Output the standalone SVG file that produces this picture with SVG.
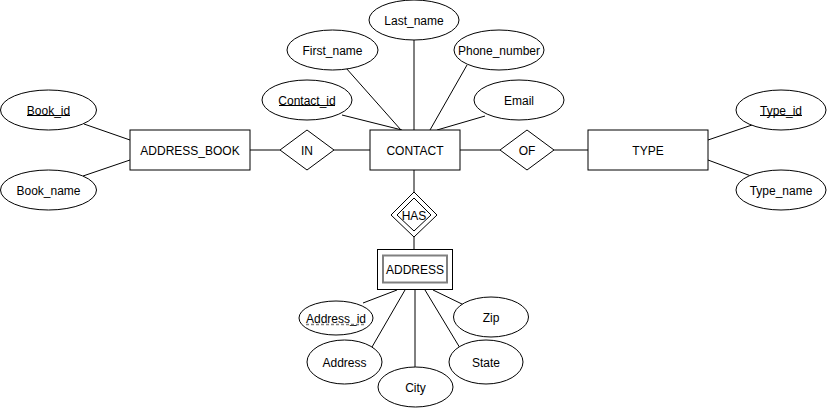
<svg xmlns="http://www.w3.org/2000/svg" width="827" height="408" viewBox="0 0 827 408">
<style>
.s{fill:#fff;stroke:#000;stroke-width:1}
.t{font-family:"Liberation Sans",Arial,sans-serif;font-size:12px;fill:#000;text-anchor:middle;dominant-baseline:central}
.c line{stroke:#000;stroke-width:1}
.u{stroke:#000;stroke-width:1}
</style>
<rect width="827" height="408" fill="#fff"/>
<g class="c" id="connectors">
<line x1="84" y1="124" x2="130" y2="140"/>
<line x1="83" y1="176" x2="130" y2="160"/>
<line x1="250" y1="150" x2="280" y2="150"/>
<line x1="334" y1="150" x2="370" y2="150"/>
<line x1="460" y1="150" x2="500" y2="150"/>
<line x1="554" y1="150" x2="588" y2="150"/>
<line x1="708" y1="140" x2="752" y2="125"/>
<line x1="708" y1="160" x2="751" y2="176"/>
<line x1="414" y1="40" x2="414" y2="130"/>
<line x1="346" y1="68" x2="401" y2="130"/>
<line x1="467" y1="65" x2="430" y2="130"/>
<line x1="342" y1="115" x2="402" y2="130"/>
<line x1="485" y1="116" x2="437" y2="130"/>
<line x1="414" y1="170" x2="414" y2="192"/>
<line x1="414" y1="237" x2="414" y2="249"/>
<line x1="397" y1="290" x2="363" y2="303"/>
<line x1="405" y1="290" x2="372" y2="347"/>
<line x1="415" y1="290" x2="415" y2="368"/>
<line x1="425" y1="290" x2="460" y2="348"/>
<line x1="433" y1="290" x2="464" y2="305"/>
</g>
<g id="address_book"><rect class="s" x="130" y="130" width="120" height="40"/><text class="t" x="190" y="150.5">ADDRESS_BOOK</text></g>
<g id="book_id"><ellipse class="s" cx="48.5" cy="110" rx="48" ry="20"/><text class="t" x="48.5" y="110.5">Book_id</text><line class="u" x1="27" y1="115.5" x2="70" y2="115.5"/></g>
<g id="book_name"><ellipse class="s" cx="48.5" cy="190" rx="48" ry="20"/><text class="t" x="48.5" y="190.5">Book_name</text></g>
<g id="in"><polygon class="s" points="280,150 307,130 334,150 307,170"/><text class="t" x="307" y="150.5">IN</text></g>
<g id="contact"><rect class="s" x="370" y="130" width="90" height="40"/><text class="t" x="415" y="150.5">CONTACT</text></g>
<g id="of"><polygon class="s" points="500,150 527,130 554,150 527,170"/><text class="t" x="527" y="150.5">OF</text></g>
<g id="type"><rect class="s" x="588" y="130" width="120" height="40"/><text class="t" x="648" y="150.5">TYPE</text></g>
<g id="type_id"><ellipse class="s" cx="781" cy="110" rx="45" ry="20"/><text class="t" x="781" y="110.5">Type_id</text><line class="u" x1="760" y1="115.5" x2="802" y2="115.5"/></g>
<g id="type_name"><ellipse class="s" cx="781" cy="190" rx="45" ry="20"/><text class="t" x="781" y="190.5">Type_name</text></g>
<g id="last_name"><ellipse class="s" cx="414" cy="20" rx="45" ry="20"/><text class="t" x="414" y="20.5">Last_name</text></g>
<g id="first_name"><ellipse class="s" cx="332.5" cy="50" rx="45.5" ry="20"/><text class="t" x="332.5" y="50.5">First_name</text></g>
<g id="phone_number"><ellipse class="s" cx="499" cy="50" rx="45" ry="20"/><text class="t" x="499" y="50.5">Phone_number</text></g>
<g id="contact_id"><ellipse class="s" cx="307" cy="100" rx="45" ry="20"/><text class="t" x="307" y="100.5">Contact_id</text><line class="u" x1="279" y1="105.5" x2="335" y2="105.5"/></g>
<g id="email"><ellipse class="s" cx="519" cy="100" rx="45" ry="20"/><text class="t" x="519" y="100.5">Email</text></g>
<g id="has"><polygon class="s" points="391,215 414,192 437,215 414,237"/><polygon class="s" points="397,215 414,198 431,215 414,231"/><text class="t" x="414" y="215.5">HAS</text></g>
<g id="address"><rect class="s" x="377.5" y="249.5" width="75" height="40"/><rect x="383" y="255.5" width="64" height="27" fill="none" stroke="#808080" stroke-width="2"/><text class="t" x="415" y="269.5">ADDRESS</text></g>
<g id="address_id"><ellipse class="s" cx="336" cy="318" rx="37" ry="17"/><text class="t" x="336" y="318.5">Address_id</text><line x1="306" y1="324.5" x2="366" y2="324.5" stroke="#808080" stroke-width="1.5" stroke-dasharray="3,2"/></g>
<g id="zip"><ellipse class="s" cx="491" cy="317" rx="37.5" ry="20"/><text class="t" x="491" y="317.5">Zip</text></g>
<g id="address_attr"><ellipse class="s" cx="344.5" cy="362" rx="37.5" ry="22"/><text class="t" x="344.5" y="362.5">Address</text></g>
<g id="state"><ellipse class="s" cx="486" cy="362" rx="37" ry="22"/><text class="t" x="486" y="362.5">State</text></g>
<g id="city"><ellipse class="s" cx="415.5" cy="387" rx="37.5" ry="20"/><text class="t" x="415.5" y="387.5">City</text></g>
</svg>
